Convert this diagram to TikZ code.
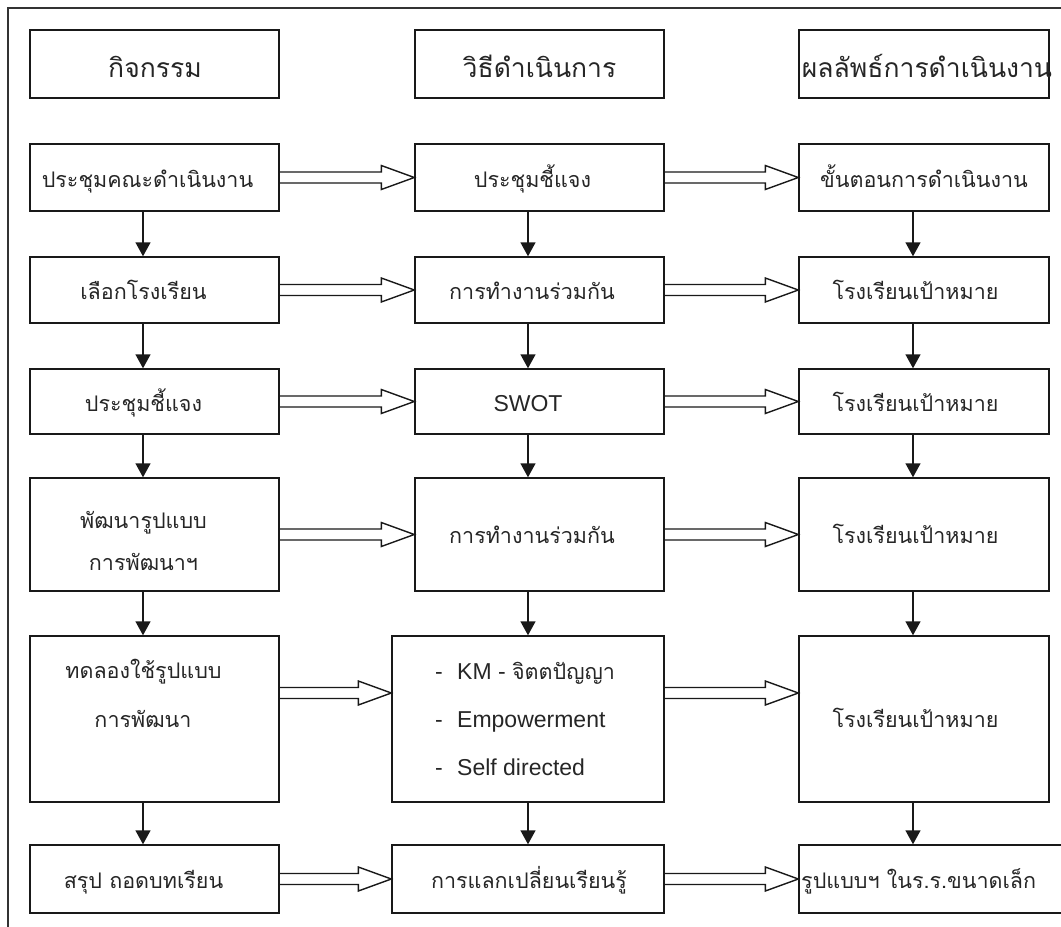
\documentclass[tikz,border=0pt]{standalone}
\usepackage{fontspec}
\setmainfont{Liberation Sans}
\newfontfamily\thaifont[Script=Thai]{Loma}
\usetikzlibrary{calc,arrows.meta}

\begin{document}
\begin{tikzpicture}[x=1pt,y=-1pt,
  box/.style={draw=black!90, line width=1.4pt, inner sep=0pt},
  th/.style={font=\thaifont\fontsize{21.5}{26}\selectfont, text=black!85, inner sep=0pt, anchor=base},
  hd/.style={th, font=\thaifont\fontsize{26.5}{30}\selectfont},
  lt/.style={font=\fontsize{23}{27}\selectfont, text=black!85, inner sep=0pt, anchor=base},
  down/.style={line width=1.4pt, draw=black!90, -{Triangle[width=15pt,length=14pt]}},
  fat/.style={line width=1.4pt, draw=black!90, line join=miter,
    to path={let \p1=(\tikztostart), \p2=(\tikztotarget) in
      (\x1,\y1+5.5pt) -- (\x2-33pt,\y1+5.5pt) -- (\x2-33pt,\y1+12pt) -- (\x2,\y1)
      -- (\x2-33pt,\y1-12pt) -- (\x2-33pt,\y1-5.5pt) -- (\x1,\y1-5.5pt)}},
]
\useasboundingbox (0,0) rectangle (1061,927);
\clip (0,0) rectangle (1061,927);

% outer frame
\draw[line width=1.4pt, black!80] (8,8) rectangle (1100,980);

% columns of arrows
\coordinate (xl) at (143,0);
\coordinate (xm) at (528,0);
\coordinate (xr) at (913,0);
\coordinate (y5) at (0,693);

% headers
\node[box, minimum width=249pt, minimum height=68pt] (hA) at (154.5,64) {};
\node[box, minimum width=249pt, minimum height=68pt] (hB) at (539.5,64) {};
\node[box, minimum width=250pt, minimum height=68pt] (hC) at (924,64) {};
\node[hd] (thA) at (155,77) {กิจกรรม};
\node[hd] (thB) at (539.5,77) {วิธีดำเนินการ};
\node[hd] (thC) at (927,77) {ผลลัพธ์การดำเนินงาน};

% row 1
\node[box, minimum width=249pt, minimum height=67pt] (a1) at (154.5,177.5) {};
\node[box, minimum width=249pt, minimum height=67pt] (b1) at (539.5,177.5) {};
\node[box, minimum width=250pt, minimum height=67pt] (c1) at (924,177.5) {};
\node[th] (ta1) at (147.5,187) {ประชุมคณะดำเนินงาน};
\node[th] (tb1) at (532.5,187) {ประชุมชี้แจง};
\node[th] (tc1) at (924,187) {ขั้นตอนการดำเนินงาน};

% row 2
\node[box, minimum width=249pt, minimum height=66pt] (a2) at (154.5,290) {};
\node[box, minimum width=249pt, minimum height=66pt] (b2) at (539.5,290) {};
\node[box, minimum width=250pt, minimum height=66pt] (c2) at (924,290) {};
\node[th] (ta2) at (143.5,299.5) {เลือกโรงเรียน};
\node[th] (tb2) at (532,299.5) {การทำงานร่วมกัน};
\node[th] (tc2) at (915.5,299.5) {โรงเรียนเป้าหมาย};

% row 3
\node[box, minimum width=249pt, minimum height=65pt] (a3) at (154.5,401.5) {};
\node[box, minimum width=249pt, minimum height=65pt] (b3) at (539.5,401.5) {};
\node[box, minimum width=250pt, minimum height=65pt] (c3) at (924,401.5) {};
\node[th] (ta3) at (143.5,411) {ประชุมชี้แจง};
\node[lt] (tb3) at (528,411.5) {SWOT};
\node[th] (tc3) at (915.5,411) {โรงเรียนเป้าหมาย};

% row 4
\node[box, minimum width=249pt, minimum height=113pt] (a4) at (154.5,534.5) {};
\node[box, minimum width=249pt, minimum height=113pt] (b4) at (539.5,534.5) {};
\node[box, minimum width=250pt, minimum height=113pt] (c4) at (924,534.5) {};
\node[th] (ta4a) at (143.5,528) {พัฒนารูปแบบ};
\node[th] (ta4b) at (143.5,570) {การพัฒนาฯ};
\node[th] (tb4) at (532,543) {การทำงานร่วมกัน};
\node[th] (tc4) at (915.5,543) {โรงเรียนเป้าหมาย};

% row 5
\node[box, minimum width=249pt, minimum height=166pt] (a5) at (154.5,719) {};
\node[box, minimum width=272pt, minimum height=166pt] (b5) at (528,719) {};
\node[box, minimum width=250pt, minimum height=166pt] (c5) at (924,719) {};
\node[th] (ta5a) at (143.5,678) {ทดลองใช้รูปแบบ};
\node[th] (ta5b) at (143,727) {การพัฒนา};
\node[lt, anchor=base west] (d1) at (435,679) {-};
\node[lt, anchor=base west] (d2) at (435,727) {-};
\node[lt, anchor=base west] (d3) at (435,775) {-};
\node[lt, anchor=base west] (tb5a) at (457,679) {KM - {\thaifont\fontsize{21.5}{26}\selectfont จิตตปัญญา}};
\node[lt, anchor=base west] (tb5b) at (457,727) {Empowerment};
\node[lt, anchor=base west] (tb5c) at (457,775) {Self directed};
\node[th] (tc5) at (915.5,727) {โรงเรียนเป้าหมาย};

% row 6
\node[box, minimum width=249pt, minimum height=68pt] (a6) at (154.5,879) {};
\node[box, minimum width=272pt, minimum height=68pt] (b6) at (528,879) {};
\node[box, minimum width=281pt, minimum height=68pt] (c6) at (939.5,879) {};
\node[th] (ta6) at (143.5,888) {สรุป ถอดบทเรียน};
\node[th] (tb6) at (529,888) {การแลกเปลี่ยนเรียนรู้};
\node[th, anchor=base west] (tc6) at (801,888) {รูปแบบฯ ในร.ร.ขนาดเล็ก};

% vertical flow
\foreach \u/\v in {a1/a2,a2/a3,a3/a4,a4/a5,a5/a6}
  \draw[down] (\u.south -| xl) -- (\v.north -| xl);
\foreach \u/\v in {b1/b2,b2/b3,b3/b4,b4/b5,b5/b6}
  \draw[down] (\u.south -| xm) -- (\v.north -| xm);
\foreach \u/\v in {c1/c2,c2/c3,c3/c4,c4/c5,c5/c6}
  \draw[down] (\u.south -| xr) -- (\v.north -| xr);

% horizontal flow
\foreach \r in {1,2,3,4,6} {
  \draw[fat] (a\r.east) to (b\r.west);
  \draw[fat] (b\r.east) to (c\r.west);
}
\draw[fat] (a5.east |- y5) to (b5.west |- y5);
\draw[fat] (b5.east |- y5) to (c5.west |- y5);
\end{tikzpicture}
\end{document}
